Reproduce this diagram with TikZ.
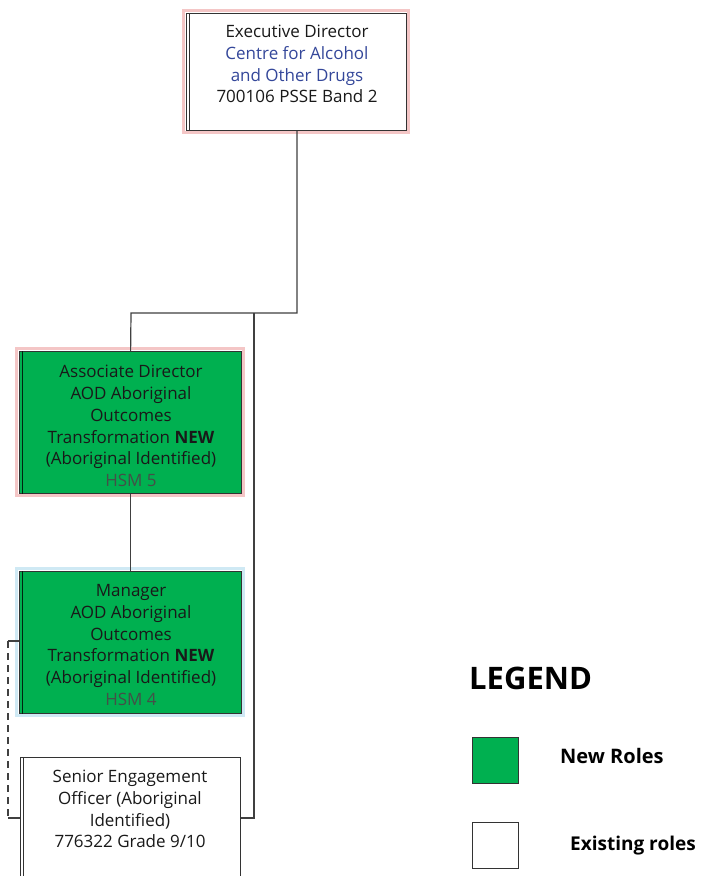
\documentclass[tikz,border=0pt]{standalone}
\usepackage{fontspec}
\setmainfont{Open Sans}
\usetikzlibrary{positioning}
\definecolor{rolegreen}{HTML}{00B050}
\definecolor{edge}{HTML}{333333}
\definecolor{wire}{HTML}{404040}
\definecolor{titleblue}{HTML}{34479A}
\definecolor{pinkglow}{HTML}{F2B8B8}
\definecolor{blueglow}{HTML}{C4E4F2}
\definecolor{hsmgray}{HTML}{445048}
\tikzset{
  rolebox/.style={draw=edge, line width=1.2pt, minimum width=#1, inner sep=0pt},
  roletext/.style={align=center, font=\fontsize{17}{21.8}\selectfont, inner sep=0pt, text=black!90},
  wireline/.style={draw=wire, line width=1.2pt},
  legendbox/.style={draw=edge, line width=1.2pt, minimum width=46pt, minimum height=46pt, inner sep=0pt},
  legendtext/.style={font=\fontsize{19}{23}\selectfont\bfseries, anchor=west, inner sep=0pt}
}
\begin{document}
\begin{tikzpicture}[x=1pt,y=-1pt]
\useasboundingbox (0,0) rectangle (701,876);
\clip (0,0) rectangle (701,876);
\fill[white] (0,0) rectangle (701,876);

% glows behind the boxes
\draw[pinkglow, line width=3.5pt, opacity=0.8] (183.5,10.5) rectangle (408.5,132.5);
\draw[pinkglow, line width=3.5pt, opacity=0.8] (16.5,348.5) rectangle (243.5,495.5);
\draw[blueglow, line width=3.5pt, opacity=0.8] (16.5,568.5) rectangle (243.5,715.5);

% role boxes
\node[rolebox=220pt, minimum height=117pt, fill=white, anchor=north west] (exec) at (186,13) {};
\node[rolebox=222pt, minimum height=142pt, fill=rolegreen, anchor=north west] (assoc) at (19,351) {};
\node[rolebox=222pt, minimum height=142pt, fill=rolegreen, anchor=north west] (mgr) at (19,571) {};
\node[rolebox=220pt, minimum height=130pt, fill=white, anchor=north west] (senior) at (20,757) {};

% inner left rule on each box
\draw[edge, line width=1pt] ([xshift=3.5pt]exec.north west) -- ([xshift=3.5pt]exec.south west);
\draw[black!80!rolegreen, line width=1pt] ([xshift=3.5pt]assoc.north west) -- ([xshift=3.5pt]assoc.south west);
\draw[black!80!rolegreen, line width=1pt] ([xshift=3.5pt]mgr.north west) -- ([xshift=3.5pt]mgr.south west);
\draw[edge, line width=1pt] ([xshift=3.5pt]senior.north west) -- ([xshift=3.5pt]senior.south west);

% box texts
\node[roletext] (exectxt) at (297,64) {Executive Director\\
  \textcolor{titleblue}{Centre for Alcohol}\\
  \textcolor{titleblue}{and Other Drugs}\\
  700106 PSSE Band 2};
\node[roletext] (assoctxt) at (131,426) {Associate Director\\AOD Aboriginal\\Outcomes\\Transformation \textbf{NEW}\\(Aboriginal Identified)\\\textcolor{hsmgray}{HSM 5}};
\node[roletext] (mgrtxt) at (131,645) {Manager\\AOD Aboriginal\\Outcomes\\Transformation \textbf{NEW}\\(Aboriginal Identified)\\\textcolor{hsmgray}{HSM 4}};
\node[roletext] (seniortxt) at (130,809) {Senior Engagement\\Officer (Aboriginal\\Identified)\\776322 Grade 9/10};

% reporting lines
\coordinate (split) at (297,313);
\coordinate (bend) at (131,313);
\coordinate (spine) at (254,313);
\coordinate (spinefoot) at (254,818);
\draw[wireline] (exec.south -| split) -- (split) -- (bend) -- (assoc.north);
\draw[wireline, line width=1.7pt] (spine) -- (spinefoot) -- (spinefoot -| senior.east);
\draw[wireline] (assoc.south) -- (mgr.north);

% dotted-line reporting
\coordinate (dtop) at (8,641);
\coordinate (dbot) at (8,818);
\draw[wireline] (dtop -| mgr.west) -- (dtop);
\draw[wireline, dash pattern=on 7pt off 5pt] (dtop) -- (dbot);
\draw[wireline] (dbot) -- (dbot -| senior.west);

% legend
\node[font=\fontsize{31}{34}\selectfont\bfseries, anchor=west, inner sep=0pt] (legendtitle) at (469,678) {LEGEND};
\node[legendbox, fill=rolegreen, anchor=north west] (newkey) at (472,737) {};
\node[legendbox, fill=white, anchor=north west] (oldkey) at (472,822) {};
\node[legendtext, font=\fontsize{20}{24}\selectfont\bfseries] (newlbl) at (560,756) {New Roles};
\node[legendtext] (oldlbl) at (570,846) {Existing roles};
\end{tikzpicture}
\end{document}
